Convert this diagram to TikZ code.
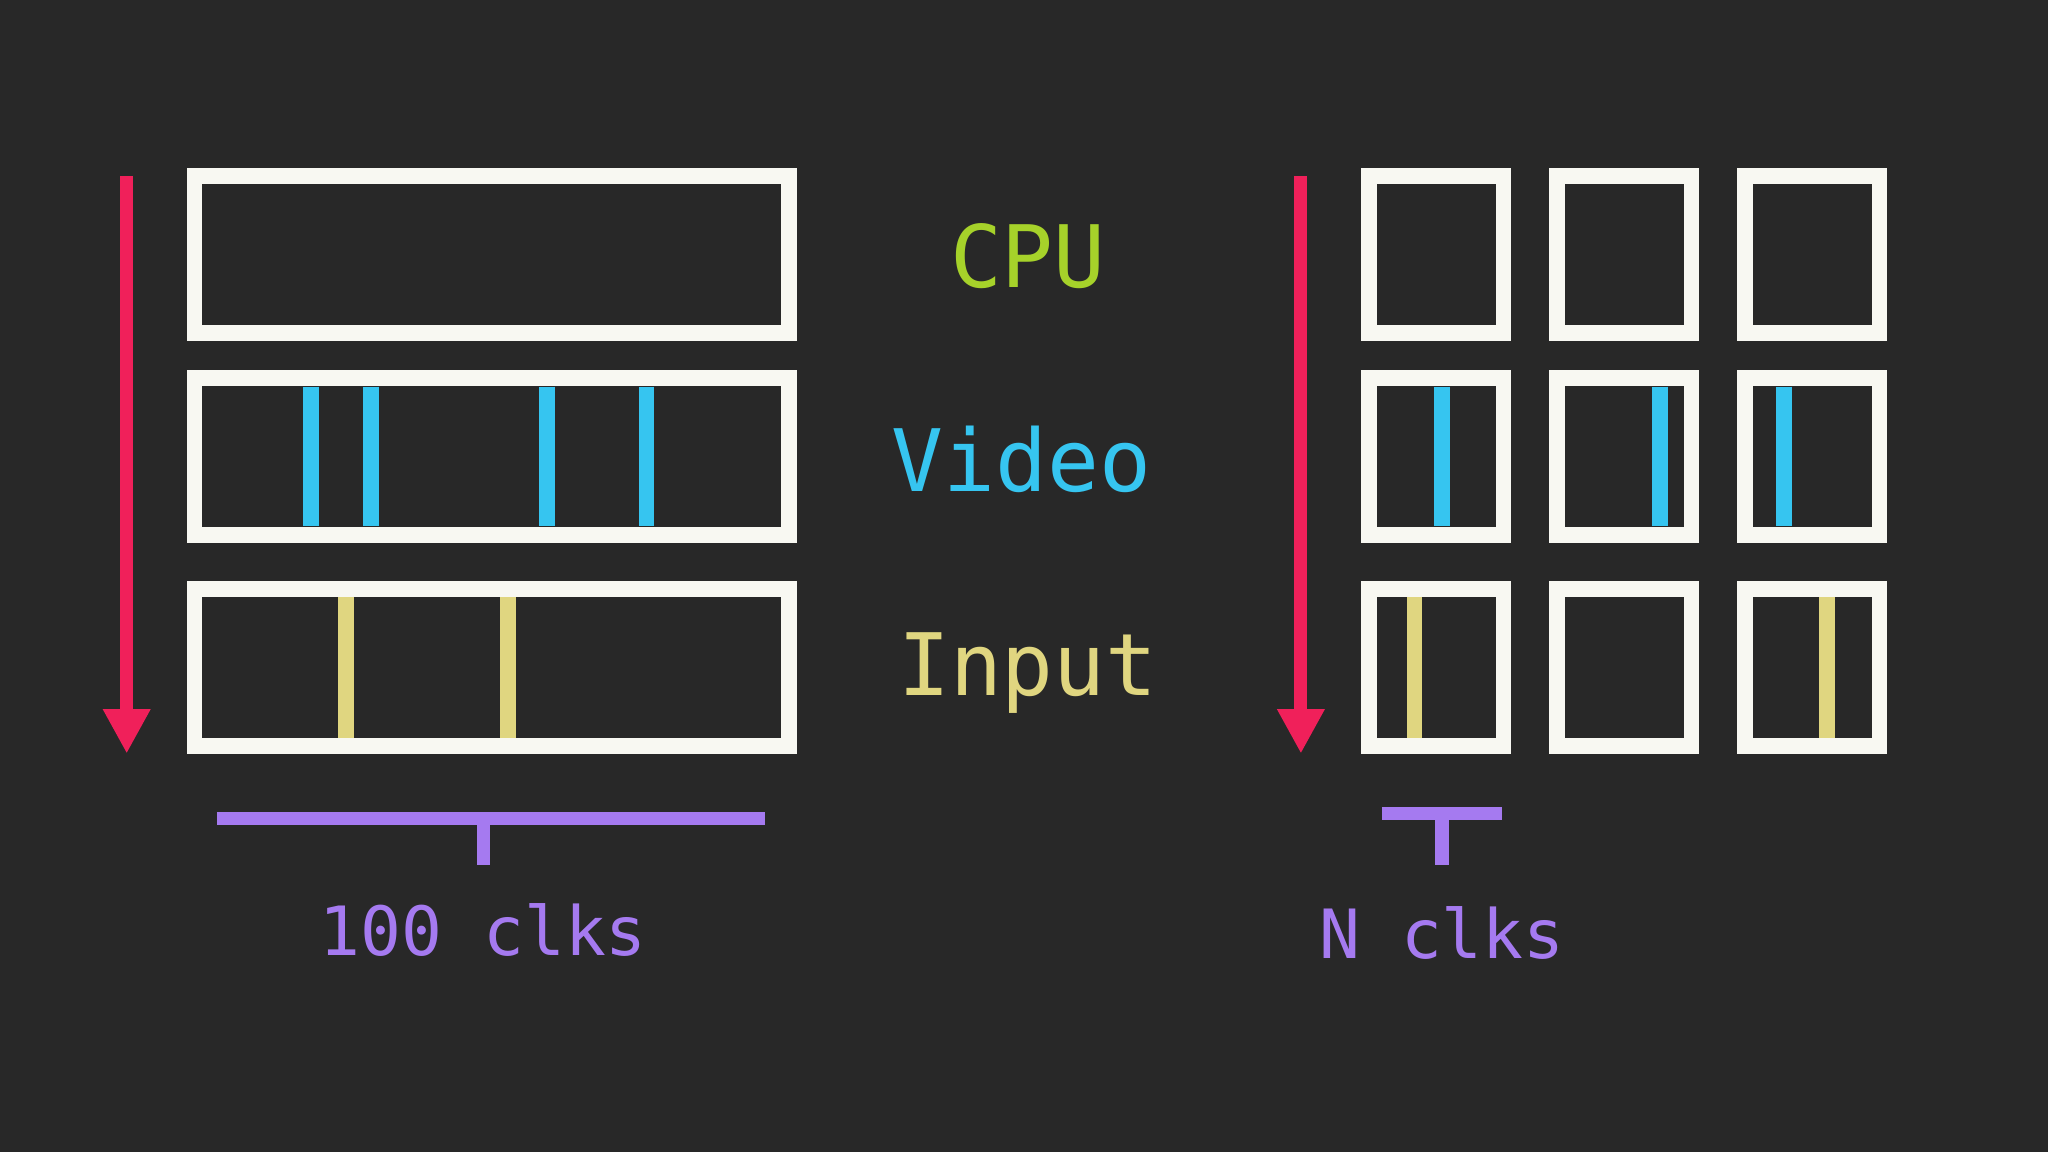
\documentclass[tikz,border=0pt]{standalone}
\usepackage{fontspec}
\setmonofont{DejaVu Sans Mono}
\usetikzlibrary{arrows.meta}
\definecolor{bg}{HTML}{282828}
\definecolor{pinkc}{HTML}{F0205A}
\definecolor{cyanc}{HTML}{36C5F0}
\definecolor{yelc}{HTML}{E0D680}
\definecolor{greenc}{HTML}{A6D22A}
\definecolor{purc}{HTML}{A57AF0}
\definecolor{boxc}{HTML}{F8F8F2}
\tikzset{
  slot/.style={draw=boxc, line width=12pt, inner sep=0pt, minimum height=120pt},
  wide/.style={slot, minimum width=455pt},
  sq/.style={slot, minimum width=103pt},
  vbar/.style={cyanc, line width=12pt},
  ibar/.style={yelc, line width=12pt},
  timearrow/.style={pinkc, line width=10pt, -{Triangle[width=34pt,length=34pt]}},
  brk/.style={purc, line width=10pt},
  lab/.style={font=\ttfamily\fontsize{66}{70}\selectfont},
  clk/.style={font=\ttfamily\fontsize{52}{56}\selectfont, text=purc}
}
\begin{document}
\begin{tikzpicture}[x=1pt,y=-1pt]
\fill[bg] (0,0) rectangle (1568,882);
\useasboundingbox (0,0) rectangle (1568,882);
% left
\coordinate (la1) at (97,135); \coordinate (la2) at (97,577);
\draw[timearrow] (la1) -- (la2);
\node[wide] (cpuL) at (376.5,195) {};
\node[wide] (vidL) at (376.5,349.5) {};
\node[wide] (inL) at (376.5,511) {};
\foreach \x in {238,284,419,495} \draw[vbar] (\x,296) -- (\x,403);
\foreach \x in {265,389} \draw[ibar] (\x,457) -- (\x,565);
\node[lab, text=greenc] (cpu) at (787,196) {CPU};
\node[lab, text=cyanc] (video) at (782,352) {Video};
\node[lab, text=yelc] (input) at (787,515) {Input};
\coordinate (b1) at (166,627); \coordinate (b2) at (586,627);
\coordinate (s1) at (370,627); \coordinate (s2) at (370,662);
\draw[brk] (b1) -- (b2); \draw[brk] (s1) -- (s2);
\node[clk] (c100) at (370,712) {100 clks};
% right
\coordinate (ra1) at (996,135); \coordinate (ra2) at (996,577);
\draw[timearrow] (ra1) -- (ra2);
\foreach \cx [count=\i] in {1099.5,1243.5,1387.5}{
  \node[sq] (r1c\i) at (\cx,195) {};
  \node[sq] (r2c\i) at (\cx,349.5) {};
  \node[sq] (r3c\i) at (\cx,511) {};
}
\foreach \x in {1104,1271,1366} \draw[vbar] (\x,296) -- (\x,403);
\foreach \x in {1083,1399} \draw[ibar] (\x,457) -- (\x,565);
\coordinate (rb1) at (1058,623); \coordinate (rb2) at (1150,623);
\coordinate (rs1) at (1104,623); \coordinate (rs2) at (1104,662);
\draw[brk] (rb1) -- (rb2); \draw[brk] (rs1) -- (rs2);
\node[clk] (cn) at (1104,714) {N clks};
\end{tikzpicture}
\end{document}
